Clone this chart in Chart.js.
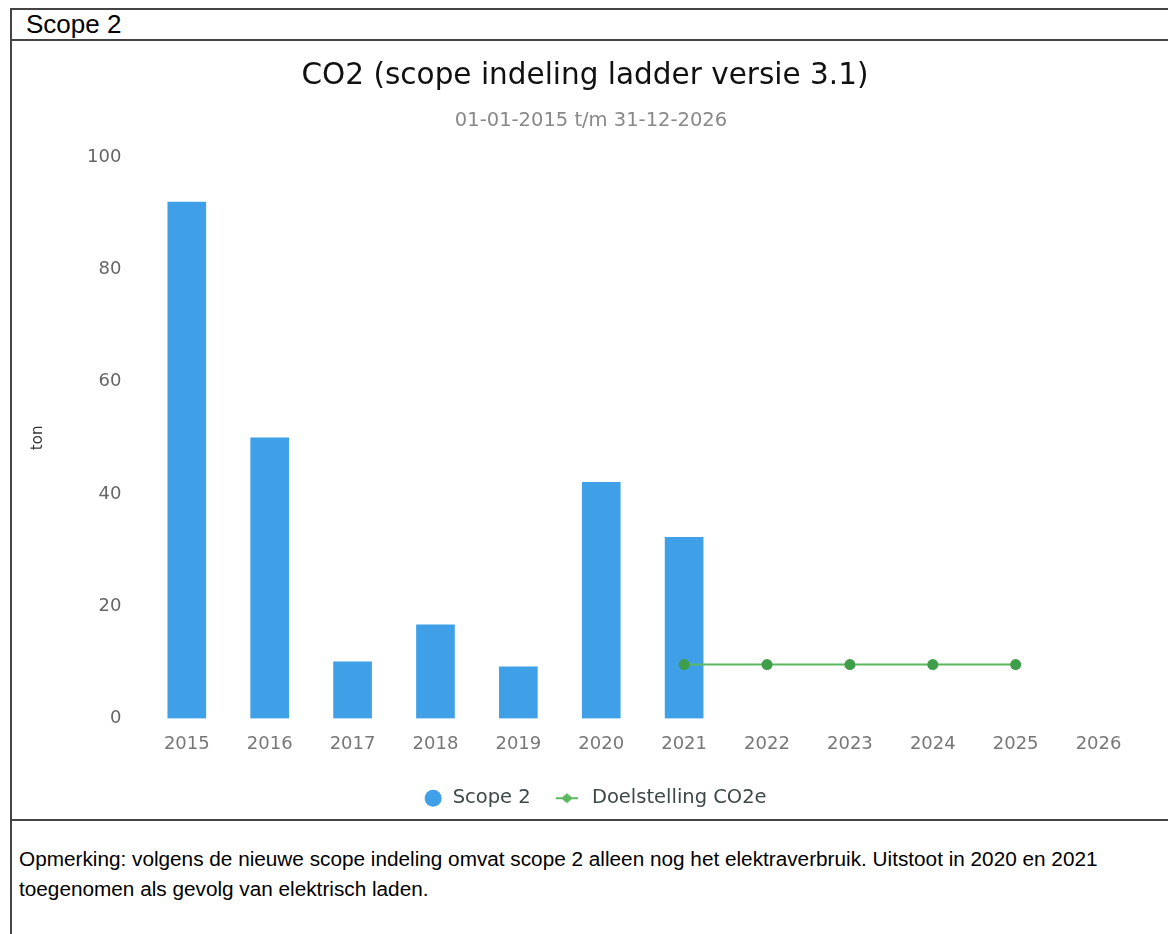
<!DOCTYPE html>
<html>
<head>
<meta charset="utf-8">
<script src="https://cdn.jsdelivr.net/npm/chart.js@4/dist/chart.umd.min.js"></script>
<style>
  body { margin: 0; background: #fff; font-family: "Liberation Sans", Arial, sans-serif; }
  #kader { position: absolute; left: 10px; top: 8px; width: 1170px; height: 940px;
           border-left: 2px solid #444; border-top: 2px solid #444; }
  #kop { height: 29px; border-bottom: 2px solid #444; font-size: 26px; padding-left: 14px; line-height: 29px; color: #000; }
  #grafiekVak { position: relative; height: 778px; border-bottom: 2px solid #444; }
  #opmerking { padding: 23px 0 0 7px; font-size: 20.75px; line-height: 30px; color: #000; }
</style>
</head>
<body>
<div id="kader">
  <div id="kop">Scope 2</div>
  <div id="grafiekVak"><canvas id="grafiekScope2"></canvas></div>
  <div id="opmerking">Opmerking: volgens de nieuwe scope indeling omvat scope 2 alleen nog het elektraverbruik. Uitstoot in 2020 en 2021<br>toegenomen als gevolg van elektrisch laden.</div>
</div>
<script>
const jaren = ["2015", "2016", "2017", "2018", "2019", "2020", "2021", "2022", "2023", "2024", "2025", "2026"];
const scope2 = [92, 50, 10.1, 16.7, 9.2, 42.1, 32.3, null, null, null, null, null];
const doelstelling = [null, null, null, null, null, null, 9.6, 9.6, 9.6, 9.6, 9.6, null];
const yTicks = [0, 20, 40, 60, 80, 100];

const blauw = "#3fa0e8";
const groen = "#5cb860";
const groenPunt = "#3f9e4a";

// klein plaatje voor de legenda: lijn met ruitje (rechts wat lege ruimte)
function lijnIcoon() {
  const c = document.createElement("canvas");
  c.width = 33; c.height = 12;
  const g = c.getContext("2d");
  g.strokeStyle = groen; g.lineWidth = 2;
  g.beginPath(); g.moveTo(0, 6); g.lineTo(22, 6); g.stroke();
  g.fillStyle = groen;
  g.beginPath(); g.moveTo(11, 1); g.lineTo(17, 6); g.lineTo(11, 11); g.lineTo(5, 6); g.closePath(); g.fill();
  return c;
}
const icoon = lijnIcoon();

// titel, ondertitel en legenda staan in het origineel iets meer naar rechts
const schuifTekst = {
  id: "schuifTekst",
  afterLayout(chart) {
    chart.boxes.forEach(b => {
      if (b.axis) return;
      let dx = 10;
      if (b === chart.legend) dx = 14;
      if (b === chart.titleBlock) dx = 4;
      b.left += dx; b.right += dx;
    });
  }
};

const ctx = document.getElementById("grafiekScope2");
ctx.width = 1158; ctx.height = 778;

new Chart(ctx, {
  data: {
    labels: jaren,
    datasets: [{
      type: "bar",
      label: "Scope 2",
      data: scope2,
      backgroundColor: blauw,
      barThickness: 38,
      order: 2
    }, {
      type: "line",
      label: "Doelstelling CO2e",
      data: doelstelling,
      borderColor: groen,
      borderWidth: 2,
      backgroundColor: groenPunt,
      pointBackgroundColor: groenPunt,
      pointBorderColor: groenPunt,
      pointRadius: 4.5,
      tension: 0,
      order: 1
    }]
  },
  plugins: [schuifTekst],
  options: {
    responsive: false,
    animation: false,
    layout: { padding: { left: 10, right: 30, top: 0, bottom: 1 } },
    plugins: {
      title: {
        display: true,
        text: "CO2 (scope indeling ladder versie 3.1)",
        color: "#111",
        font: { family: "DejaVu Sans", size: 29.5, weight: "normal" },
        padding: { top: 18, bottom: 11.5 }
      },
      subtitle: {
        display: true,
        text: "01-01-2015 t/m 31-12-2026",
        color: "#888",
        font: { family: "DejaVu Sans", size: 19.5 },
        padding: { top: 3, bottom: 25 }
      },
      legend: {
        position: "bottom",
        labels: {
          usePointStyle: true,
          boxWidth: 24,
          boxHeight: 12,
          color: "#3d4848",
          font: { family: "DejaVu Sans", size: 19.5, lineHeight: 1 },
          padding: 32,
          sort: (a, b) => a.datasetIndex - b.datasetIndex,
          generateLabels(chart) {
            const items = Chart.defaults.plugins.legend.labels.generateLabels(chart);
            items.forEach(it => { it.pointStyle = it.datasetIndex === 0 ? "circle" : icoon; });
            return items;
          }
        }
      },
      tooltip: { enabled: false }
    },
    scales: {
      x: {
        grid: { display: false },
        border: { display: false },
        ticks: { color: "#777", font: { family: "DejaVu Sans", size: 18 }, padding: 7 },
        afterFit(axis) { axis.height -= 5.6; }
      },
      y: {
        min: 0,
        max: 100,
        afterBuildTicks(axis) { axis.ticks = yTicks.map(v => ({ value: v })); },
        grid: { display: false },
        border: { display: false },
        title: { display: true, text: "ton", color: "#333", font: { family: "DejaVu Sans", size: 15 }, padding: { top: 7, bottom: 24 } },
        ticks: { color: "#666", font: { family: "DejaVu Sans", size: 18 }, padding: 16 }
      }
    }
  }
});
</script>
</body>
</html>
